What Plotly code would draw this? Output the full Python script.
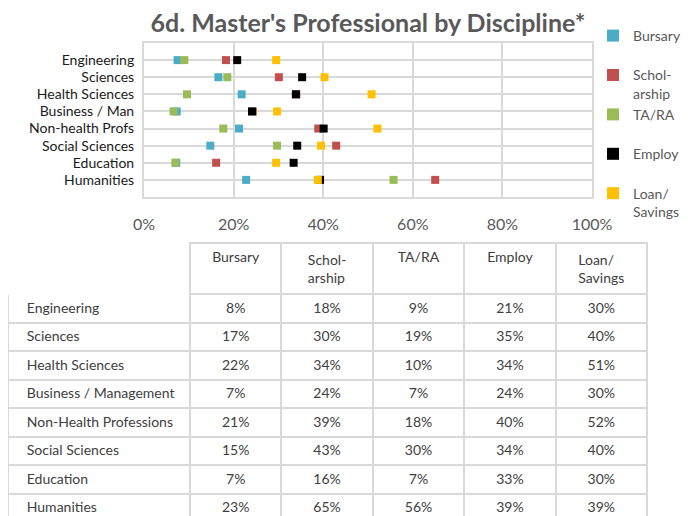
import plotly.graph_objects as go

# ---- data ----
chart_categories = ["Engineering", "Sciences", "Health Sciences", "Business / Man",
                    "Non-health Profs", "Social Sciences", "Education", "Humanities"]
table_categories = ["Engineering", "Sciences", "Health Sciences", "Business / Management",
                    "Non-Health Professions", "Social Sciences", "Education", "Humanities"]
series_names = ["Bursary", "Schol-<br>arship", "TA/RA", "Employ", "Loan/<br>Savings"]
legend_names = ["Bursary<br> ", "Schol-<br>arship", "TA/RA<br> ", "Employ<br> ", "Loan/<br>Savings"]

# values as plotted (percent)
bursary = [7.5, 16.6, 21.8, 7.3, 21.2, 14.8, 7.2, 22.8]
scholarship = [18.3, 30.1, 34.0, 24.3, 38.9, 42.9, 16.1, 65.0]
ta_ra = [9.0, 18.6, 9.6, 6.6, 17.7, 29.7, 7.0, 55.7]
employ = [20.8, 35.3, 33.9, 24.1, 40.1, 34.2, 33.4, 39.3]
loan = [29.5, 40.3, 50.8, 29.7, 52.1, 39.5, 29.5, 38.8]

# values as printed in the table (percent)
t_bursary = [8, 17, 22, 7, 21, 15, 7, 23]
t_scholarship = [18, 30, 34, 24, 39, 43, 16, 65]
t_ta_ra = [9, 19, 10, 7, 18, 30, 7, 56]
t_employ = [21, 35, 34, 24, 40, 34, 33, 39]
t_loan = [30, 40, 51, 30, 52, 40, 30, 39]

x_ticks = [0, 20, 40, 60, 80, 100]
x_ticktext = ["0%", "20%", "40%", "60%", "80%", "100%"]

colors = ["#4BACC6", "#C0504D", "#9BBB59", "#000000", "#FFC000"]

# ---- figure ----
W, H = 694, 516
OFF = 8  # page body margin
FONT = "Lato, 'Open Sans', sans-serif"
GRID = "#D9D9D9"


def fx(px):
    return (px - OFF) / W


def fy(py):
    return 1 - (py - OFF) / H


fig = go.Figure()
ypos = list(range(len(chart_categories)))
for i, vals in enumerate([bursary, scholarship, ta_ra, employ, loan]):
    fig.add_trace(go.Scatter(
        x=vals, y=ypos, mode="markers", name=legend_names[i],
        legendgroup=f"g{i}",
        marker=dict(symbol="square", size=8, color=colors[i], line=dict(width=0)),
        xaxis="x", yaxis="y",
    ))


def pct(lst):
    return [f"{v}%" for v in lst]


header_vals = [""] + [s for s in series_names]
cell_vals = [["\u00a0\u00a0\u00a0" + c for c in table_categories],
             pct(t_bursary), pct(t_scholarship), pct(t_ta_ra), pct(t_employ), pct(t_loan)]

fig.add_trace(go.Table(
    domain=dict(x=[fx(8), fx(647)], y=[0, fy(243)]),
    columnwidth=[182, 91.4, 91.4, 91.4, 91.4, 91.4],
    header=dict(
        values=header_vals,
        fill=dict(color="white"),
        line=dict(color=["white", GRID, GRID, GRID, GRID, GRID], width=2),
        align="center",
        font=dict(family=FONT, size=14, color="#404040"),
        height=46,
    ),
    cells=dict(
        values=cell_vals,
        fill=dict(color="white"),
        line=dict(color=GRID, width=2),
        align=["left", "center", "center", "center", "center", "center"],
        font=dict(family=FONT, size=14, color="#404040"),
        height=28.5,
    ),
))

fig.update_layout(
    width=W, height=H, autosize=False,
    margin=dict(l=0, r=0, t=0, b=0, autoexpand=False),
    paper_bgcolor="white", plot_bgcolor="white",
    font=dict(family=FONT),
    title=dict(text="<b>6d. Master's Professional by Discipline*</b>",
               x=fx(368), xanchor="center", y=fy(23.5), yanchor="middle",
               font=dict(family=FONT, size=25, color="#595959")),
    xaxis=dict(domain=[fx(144), fx(592)], range=[0, 100], tickvals=x_ticks,
               ticktext=x_ticktext, showgrid=True, gridcolor=GRID, gridwidth=2,
               showline=True, linecolor=GRID, linewidth=2, mirror=True, automargin=False,
               zeroline=False, ticks="outside", ticklen=12, tickcolor="rgba(0,0,0,0)",
               tickfont=dict(family=FONT, size=16, color="#595959"), fixedrange=True),
    yaxis=dict(domain=[fy(197), fy(43)], range=[8, -1],
               tickvals=ypos, ticktext=chart_categories, automargin=False,
               showgrid=True, gridcolor=GRID, gridwidth=2,
               showline=True, linecolor=GRID, linewidth=2, mirror=True,
               zeroline=False, ticks="outside", ticklen=5, tickcolor="rgba(0,0,0,0)",
               tickfont=dict(family=FONT, size=14, color="#1a1a1a"), fixedrange=True),
    legend=dict(x=fx(593), xanchor="left", y=fy(20), yanchor="top",
                font=dict(family=FONT, size=14, color="#595959"),
                valign="top", tracegroupgap=0, itemsizing="constant",
                bgcolor="rgba(0,0,0,0)"),
    showlegend=True,
)

fig.write_html("out.html")
